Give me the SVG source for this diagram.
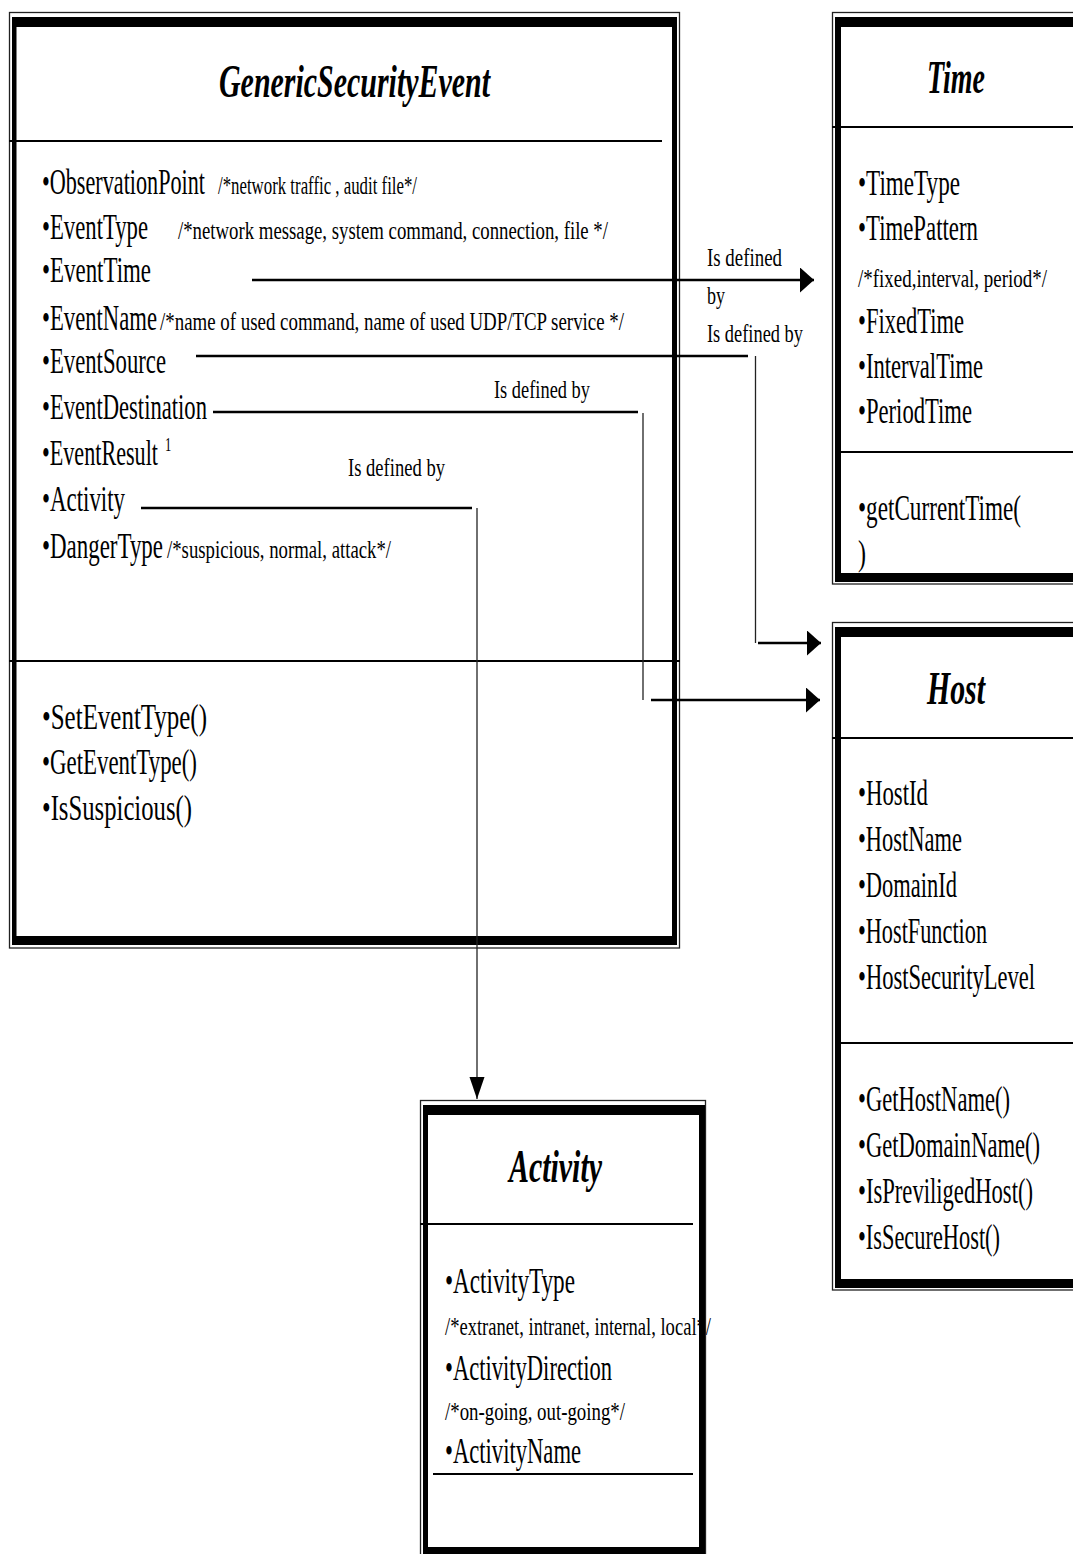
<svg xmlns="http://www.w3.org/2000/svg" width="1073" height="1554" viewBox="0 0 1073 1554">
  <style>
    .bg { fill: #ffffff; }
    .thin { fill: none; stroke: #222; stroke-width: 1.3; }
    .frame { fill: #000; fill-rule: evenodd; }
    .sep { stroke: #000; stroke-width: 2; }
    .title { font-family: "Liberation Serif", "Times New Roman", serif; font-weight: bold; font-style: italic; font-size: 46px; fill: #000; }
    .attr { font-family: "Liberation Serif", "Times New Roman", serif; font-size: 35px; fill: #000; }
    .note { font-family: "Liberation Serif", "Times New Roman", serif; font-size: 25px; fill: #000; }
    .sup { font-family: "Liberation Serif", "Times New Roman", serif; font-size: 18px; fill: #000; }
    .label { font-family: "Liberation Serif", "Times New Roman", serif; font-size: 26px; fill: #000; }
    .link { fill: none; stroke: #000; stroke-width: 2.5; }
    .drop { fill: none; stroke: #222; stroke-width: 1.3; }
  </style>
  <defs>
    <marker id="head" markerUnits="userSpaceOnUse" markerWidth="16" markerHeight="26" refX="14" refY="12.5" orient="auto">
      <path d="M0 0 L14 12.5 L0 25 Z" fill="#000"/>
    </marker>
    <marker id="headNarrow" markerUnits="userSpaceOnUse" markerWidth="24" markerHeight="16" refX="22" refY="7.5" orient="auto">
      <path d="M0 0 L22 7.5 L0 15 Z" fill="#000"/>
    </marker>
  </defs>
  <rect class="bg" x="0" y="0" width="1073" height="1554"/>

  <!-- GenericSecurityEvent class (condensed serif: x-scale 0.63 on each text) -->
  <g id="generic-security-event">
    <rect class="thin" x="9.5" y="12.5" width="670" height="935.5"/>
    <path class="frame" d="M12 17H677V945H12Z M16.5 27V936H672V27Z"/>
    <line class="sep" x1="9" y1="141" x2="662" y2="141"/>
    <line class="sep" x1="9" y1="661" x2="680" y2="661"/>
    <text class="title" transform="matrix(0.64 0 0 1 219 97)" textLength="423.4" lengthAdjust="spacingAndGlyphs">GenericSecurityEvent</text>
    <text class="attr" transform="matrix(0.63 0 0 1 42 194)" textLength="258.7" lengthAdjust="spacingAndGlyphs">•ObservationPoint</text>
    <text class="note" transform="matrix(0.63 0 0 1 218 194)" textLength="315.9" lengthAdjust="spacingAndGlyphs">/*network traffic , audit file*/</text>
    <text class="attr" transform="matrix(0.63 0 0 1 42 239)" textLength="168.3" lengthAdjust="spacingAndGlyphs">•EventType</text>
    <text class="note" transform="matrix(0.63 0 0 1 178 239)" textLength="682.5" lengthAdjust="spacingAndGlyphs">/*network message, system command, connection, file */</text>
    <text class="attr" transform="matrix(0.63 0 0 1 42 282)" textLength="173" lengthAdjust="spacingAndGlyphs">•EventTime</text>
    <text class="attr" transform="matrix(0.63 0 0 1 42 330)" textLength="182.5" lengthAdjust="spacingAndGlyphs">•EventName</text>
    <text class="note" transform="matrix(0.63 0 0 1 160 330)" textLength="736.5" lengthAdjust="spacingAndGlyphs">/*name of used command, name of used UDP/TCP service */</text>
    <text class="attr" transform="matrix(0.63 0 0 1 42 373)" textLength="196.8" lengthAdjust="spacingAndGlyphs">•EventSource</text>
    <text class="attr" transform="matrix(0.63 0 0 1 42 419)" textLength="261.9" lengthAdjust="spacingAndGlyphs">•EventDestination</text>
    <text class="attr" transform="matrix(0.63 0 0 1 42 465)" textLength="184.1" lengthAdjust="spacingAndGlyphs">•EventResult</text>
    <text class="sup" transform="matrix(0.7 0 0 1 165 451)">1</text>
    <text class="attr" transform="matrix(0.63 0 0 1 42 511)" textLength="131.7" lengthAdjust="spacingAndGlyphs">•Activity</text>
    <text class="attr" transform="matrix(0.63 0 0 1 42 558)" textLength="192.1" lengthAdjust="spacingAndGlyphs">•DangerType</text>
    <text class="note" transform="matrix(0.63 0 0 1 167 558)" textLength="355.6" lengthAdjust="spacingAndGlyphs">/*suspicious, normal, attack*/</text>
    <text class="attr" transform="matrix(0.63 0 0 1 42 729)" textLength="261.9" lengthAdjust="spacingAndGlyphs">•SetEventType()</text>
    <text class="attr" transform="matrix(0.63 0 0 1 42 774)" textLength="246" lengthAdjust="spacingAndGlyphs">•GetEventType()</text>
    <text class="attr" transform="matrix(0.63 0 0 1 42 820)" textLength="238.1" lengthAdjust="spacingAndGlyphs">•IsSuspicious()</text>
  </g>

  <!-- Time class -->
  <g id="time">
    <text class="title" transform="matrix(0.64 0 0 1 927 93)" textLength="90.6" lengthAdjust="spacingAndGlyphs">Time</text>
    <text class="attr" transform="matrix(0.63 0 0 1 858 195)" textLength="161.9" lengthAdjust="spacingAndGlyphs">•TimeType</text>
    <text class="attr" transform="matrix(0.63 0 0 1 858 240)" textLength="190.5" lengthAdjust="spacingAndGlyphs">•TimePattern</text>
    <text class="note" transform="matrix(0.63 0 0 1 858 287)" textLength="300" lengthAdjust="spacingAndGlyphs">/*fixed,interval, period*/</text>
    <text class="attr" transform="matrix(0.63 0 0 1 858 333)" textLength="168.3" lengthAdjust="spacingAndGlyphs">•FixedTime</text>
    <text class="attr" transform="matrix(0.63 0 0 1 858 378)" textLength="198.4" lengthAdjust="spacingAndGlyphs">•IntervalTime</text>
    <text class="attr" transform="matrix(0.63 0 0 1 858 423)" textLength="181" lengthAdjust="spacingAndGlyphs">•PeriodTime</text>
    <text class="attr" transform="matrix(0.63 0 0 1 858 520)" textLength="258.7" lengthAdjust="spacingAndGlyphs">•getCurrentTime(</text>
    <text class="attr" transform="matrix(0.63 0 0 1 858 565)" textLength="12.7" lengthAdjust="spacingAndGlyphs">)</text>
    <rect class="thin" x="832.5" y="12.5" width="260" height="571.5"/>
    <path class="frame" d="M835 17H1090V582H835Z M841 27V573H1090V27Z"/>
    <line class="sep" x1="832" y1="127" x2="1073" y2="127"/>
    <line class="sep" x1="841" y1="452" x2="1073" y2="452"/>
  </g>

  <!-- Host class -->
  <g id="host">
    <text class="title" transform="matrix(0.64 0 0 1 927 704)" textLength="90.6" lengthAdjust="spacingAndGlyphs">Host</text>
    <text class="attr" transform="matrix(0.63 0 0 1 858 805)" textLength="111.1" lengthAdjust="spacingAndGlyphs">•HostId</text>
    <text class="attr" transform="matrix(0.63 0 0 1 858 851)" textLength="165.1" lengthAdjust="spacingAndGlyphs">•HostName</text>
    <text class="attr" transform="matrix(0.63 0 0 1 858 897)" textLength="157.1" lengthAdjust="spacingAndGlyphs">•DomainId</text>
    <text class="attr" transform="matrix(0.63 0 0 1 858 943)" textLength="204.8" lengthAdjust="spacingAndGlyphs">•HostFunction</text>
    <text class="attr" transform="matrix(0.63 0 0 1 858 989)" textLength="281" lengthAdjust="spacingAndGlyphs">•HostSecurityLevel</text>
    <text class="attr" transform="matrix(0.63 0 0 1 858 1111)" textLength="241.3" lengthAdjust="spacingAndGlyphs">•GetHostName()</text>
    <text class="attr" transform="matrix(0.63 0 0 1 858 1157)" textLength="288.9" lengthAdjust="spacingAndGlyphs">•GetDomainName()</text>
    <text class="attr" transform="matrix(0.63 0 0 1 858 1203)" textLength="277.8" lengthAdjust="spacingAndGlyphs">•IsPreviligedHost()</text>
    <text class="attr" transform="matrix(0.63 0 0 1 858 1249)" textLength="225.4" lengthAdjust="spacingAndGlyphs">•IsSecureHost()</text>
    <rect class="thin" x="832.5" y="622.5" width="260" height="667.5"/>
    <path class="frame" d="M835 627H1090V1288H835Z M841 637V1279H1090V637Z"/>
    <line class="sep" x1="832" y1="738" x2="1073" y2="738"/>
    <line class="sep" x1="841" y1="1043" x2="1073" y2="1043"/>
  </g>

  <!-- Activity class -->
  <g id="activity">
    <text class="title" transform="matrix(0.64 0 0 1 509 1182)" textLength="145.3" lengthAdjust="spacingAndGlyphs">Activity</text>
    <text class="attr" transform="matrix(0.63 0 0 1 445 1293)" textLength="206.3" lengthAdjust="spacingAndGlyphs">•ActivityType</text>
    <text class="note" transform="matrix(0.63 0 0 1 445 1335)" textLength="422.2" lengthAdjust="spacingAndGlyphs">/*extranet, intranet, internal, local*/</text>
    <text class="attr" transform="matrix(0.63 0 0 1 445 1380)" textLength="265.1" lengthAdjust="spacingAndGlyphs">•ActivityDirection</text>
    <text class="note" transform="matrix(0.63 0 0 1 445 1420)" textLength="285.7" lengthAdjust="spacingAndGlyphs">/*on-going, out-going*/</text>
    <text class="attr" transform="matrix(0.63 0 0 1 445 1463)" textLength="215.9" lengthAdjust="spacingAndGlyphs">•ActivityName</text>
    <rect class="thin" x="420.5" y="1100.5" width="285" height="470"/>
    <path class="frame" d="M423 1105H705V1570H423Z M428 1115V1547H699V1115Z"/>
    <line class="sep" x1="420" y1="1224" x2="693" y2="1224"/>
    <line class="sep" x1="433" y1="1474" x2="693" y2="1474"/>
  </g>

  <!-- associations -->
  <g id="connectors">
    <path class="link" d="M252 280H814" marker-end="url(#head)"/>
    <path class="link" d="M196 356H748"/>
    <path class="drop" d="M755.5 356V643"/>
    <path class="link" d="M758 643H821" marker-end="url(#head)"/>
    <path class="link" d="M213 412H638"/>
    <path class="drop" d="M643 413V700"/>
    <path class="link" d="M651 700H820" marker-end="url(#head)"/>
    <path class="link" d="M141 508H472"/>
    <path class="drop" d="M477 508V1099" marker-end="url(#headNarrow)"/>
    <text class="label" transform="matrix(0.71 0 0 1 707 266)" textLength="105.6" lengthAdjust="spacingAndGlyphs">Is defined</text>
    <text class="label" transform="matrix(0.71 0 0 1 707 304)" textLength="25.4" lengthAdjust="spacingAndGlyphs">by</text>
    <text class="label" transform="matrix(0.71 0 0 1 707 342)" textLength="135.2" lengthAdjust="spacingAndGlyphs">Is defined by</text>
    <text class="label" transform="matrix(0.71 0 0 1 494 398)" textLength="135.2" lengthAdjust="spacingAndGlyphs">Is defined by</text>
    <text class="label" transform="matrix(0.71 0 0 1 348 476)" textLength="136.6" lengthAdjust="spacingAndGlyphs">Is defined by</text>
  </g>
</svg>
